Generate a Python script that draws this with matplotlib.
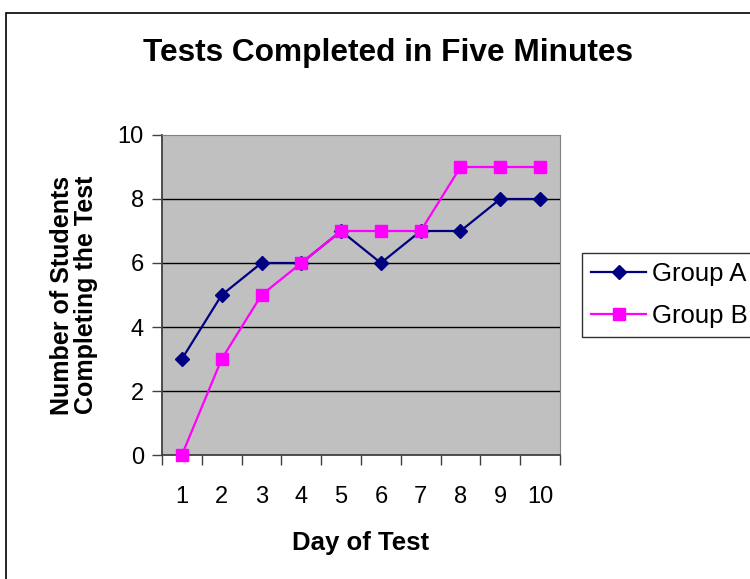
import matplotlib.pyplot as plt
from matplotlib.patches import Rectangle

plt.rcParams['font.family'] = ['Liberation Sans', 'DejaVu Sans']

days = [1, 2, 3, 4, 5, 6, 7, 8, 9, 10]
group_a = [3, 5, 6, 6, 7, 6, 7, 7, 8, 8]
group_b = [0, 3, 5, 6, 7, 7, 7, 9, 9, 9]
y_ticks = [0, 2, 4, 6, 8, 10]

fig = plt.figure(figsize=(7.5, 5.79), dpi=100)

# outer chart frame (runs off the right and bottom edges)
fig.patches.append(Rectangle((6/750, -0.05), 1.0, 1 - 13/579 + 0.05,
                             transform=fig.transFigure, fill=False,
                             edgecolor='black', linewidth=1.2))
# cut-off text from the page above
fig.text(238/750, 1 + 10/579, "g", fontsize=22, ha='left', va='baseline')

ax = fig.add_axes([162/750, 124/579, 398/750, 320/579])
ax.set_facecolor('#C0C0C0')

ax.plot(days, group_a, color='#000080', marker='D', markersize=6.8,
        linewidth=1.6, label='Group A', zorder=3, clip_on=False)
ax.plot(days, group_b, color='#FF00FF', marker='s', markersize=9,
        linewidth=1.6, label='Group B', zorder=3, clip_on=False)

ax.set_xlim(0.5, 10.5)
ax.set_ylim(0, 10)
ax.set_yticks(y_ticks)
ax.set_yticklabels([str(v) for v in y_ticks], fontsize=17)
for v in y_ticks[1:-1]:
    ax.axhline(v, color='black', linewidth=1, zorder=1)

# ticks between categories, labels centred on categories
ax.set_xticks([d + 0.5 for d in [0] + days], minor=False)
ax.set_xticklabels([])
ax.set_xticks(days, minor=True)
ax.set_xticklabels([str(d) for d in days], minor=True, fontsize=17)
ax.tick_params(axis='x', which='major', direction='out', length=7, width=1, colors='#404040')
ax.tick_params(axis='x', which='minor', length=0, pad=22, labelcolor='black')
ax.tick_params(axis='y', direction='out', length=7, width=1, color='#404040', labelcolor='black', pad=6)

ax.spines['left'].set_color('#404040')
ax.spines['bottom'].set_color('#404040')
ax.spines['left'].set_linewidth(1.3)
ax.spines['bottom'].set_linewidth(1.3)
ax.spines['top'].set_color('#808080')
ax.spines['right'].set_color('#808080')

ax.set_xlabel("Day of Test", fontsize=18.5, fontweight='bold', labelpad=17)
ax.set_ylabel("Number of Students\nCompleting the Test", fontsize=18,
              fontweight='bold', labelpad=14, linespacing=1.0)

fig.text(388/750, 1 - 53/579, "Tests Completed in Five Minutes",
         fontsize=22.8, fontweight='bold', ha='center', va='center')

leg = fig.legend(loc='upper left', bbox_to_anchor=(582/750, 1 - 253/579),
                 fontsize=18.5, frameon=True, fancybox=False, edgecolor='black',
                 borderpad=0.35, handlelength=2.15, handletextpad=0.22,
                 labelspacing=0.7, borderaxespad=0)
leg.get_frame().set_linewidth(1.0)

fig.savefig('out.png', dpi=100)
